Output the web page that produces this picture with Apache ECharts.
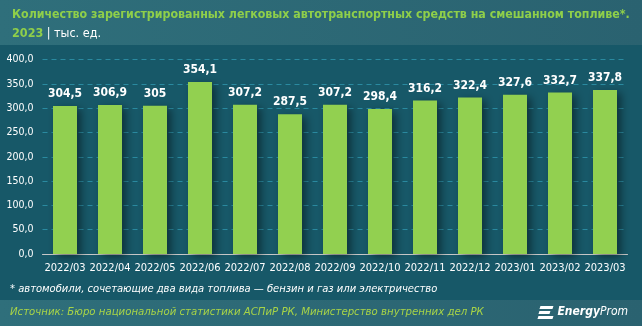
<!DOCTYPE html>
<html>
<head>
<meta charset="utf-8">
<script src="https://cdn.jsdelivr.net/npm/echarts@6/dist/echarts.min.js"></script>
<style>
  html, body { margin: 0; padding: 0; }
  #chart { width: 642px; height: 326px; }
</style>
</head>
<body>
<div id="chart"></div>
<script>
// Monthly count of dual-fuel passenger cars, thousand units
const months = ['2022/03','2022/04','2022/05','2022/06','2022/07','2022/08','2022/09',
                '2022/10','2022/11','2022/12','2023/01','2023/02','2023/03'];
const vehicles = [304.5, 306.9, 305, 354.1, 307.2, 287.5, 307.2, 298.4, 316.2, 322.4, 327.6, 332.7, 337.8];
const yTicks = [0, 50, 100, 150, 200, 250, 300, 350, 400];

const titleMain = 'Количество зарегистрированных легковых автотранспортных средств на смешанном топливе*.';
const footnote = '* автомобили, сочетающие два вида топлива — бензин и газ или электричество';
const source = 'Источник: Бюро национальной статистики АСПиР РК, Министерство внутренних дел РК';

const fmt = v => String(v).replace('.', ',');
const font = '"DejaVu Sans Condensed", "DejaVu Sans", sans-serif';

const band = () => new echarts.graphic.LinearGradient(0, 0, 1, 0, [
  { offset: 0, color: '#2f6f7b' }, { offset: 1, color: '#2a6270' }]);

const chart = echarts.init(document.getElementById('chart'));
chart.setOption({
  backgroundColor: '#175868',
  animation: false,
  graphic: [
    { type: 'rect', left: 0, top: 0, shape: { width: 642, height: 45 }, style: { fill: band() }, z: 0 },
    { type: 'rect', left: 0, top: 300, shape: { width: 642, height: 26 }, style: { fill: band() }, z: 0 },
    { type: 'text', left: 12, top: 9, z: 2,
      style: { text: titleMain, fill: '#8fcf4a', font: 'bold 12.3px ' + font } },
    { type: 'text', left: 12, top: 27, z: 2,
      style: { text: '{g|2023} {w|| тыс. ед.}',
        rich: { g: { fill: '#8fcf4a', font: 'bold 12.5px ' + font },
                w: { fill: '#ffffff', font: '12.5px ' + font } } } },
    { type: 'text', left: 10, top: 284, z: 2,
      style: { text: footnote, fill: '#ffffff', font: 'italic 11.1px ' + font } },
    { type: 'text', left: 10, top: 307, z: 2,
      style: { text: source, fill: '#a8d447', font: 'italic 11.3px ' + font } },
    { type: 'group', right: 14, top: 306, z: 2, children: [
      { type: 'polygon', shape: { points: [[3,0],[16,0],[15,3],[2,3]] }, style: { fill: '#ffffff' } },
      { type: 'polygon', shape: { points: [[2,5],[13,5],[12,8],[1,8]] }, style: { fill: '#ffffff' } },
      { type: 'polygon', shape: { points: [[1,10],[16,10],[15,13],[0,13]] }, style: { fill: '#ffffff' } },
      { type: 'text', x: 20, y: 0,
        style: { text: '{b|Energy}{n|Prom}',
          rich: { b: { fill: '#ffffff', font: 'bold italic 12px ' + font },
                  n: { fill: '#ffffff', font: 'italic 12px ' + font } } } }
    ] }
  ],
  grid: { left: 42.5, right: 14.5, top: 59.7, bottom: 72, containLabel: false },
  xAxis: {
    type: 'category',
    data: months,
    axisLine: { lineStyle: { color: '#c8c8c8', width: 1 } },
    axisTick: { show: false },
    axisLabel: { color: '#ffffff', fontFamily: font, fontSize: 11, margin: 9, interval: 0 }
  },
  yAxis: {
    type: 'value',
    min: yTicks[0],
    max: yTicks[yTicks.length - 1],
    interval: 50,
    axisLine: { show: false },
    axisTick: { show: false },
    axisLabel: { color: '#ffffff', fontFamily: font, fontSize: 10.5, margin: 9,
      formatter: v => v.toFixed(1).replace('.', ',') },
    splitLine: { lineStyle: { color: '#2a8aa0', type: [5, 4], width: 1 } }
  },
  series: [{
    type: 'bar',
    data: vehicles,
    barWidth: 24,
    itemStyle: {
      color: '#92d050',
      shadowColor: 'rgba(0,0,0,0.45)',
      shadowBlur: 8,
      shadowOffsetX: 4,
      shadowOffsetY: 3
    },
    label: {
      show: true,
      position: 'top',
      distance: 6,
      color: '#ffffff',
      fontFamily: font,
      fontWeight: 'bold',
      fontSize: 12,
      formatter: p => fmt(p.value)
    }
  }]
});
</script>
</body>
</html>
